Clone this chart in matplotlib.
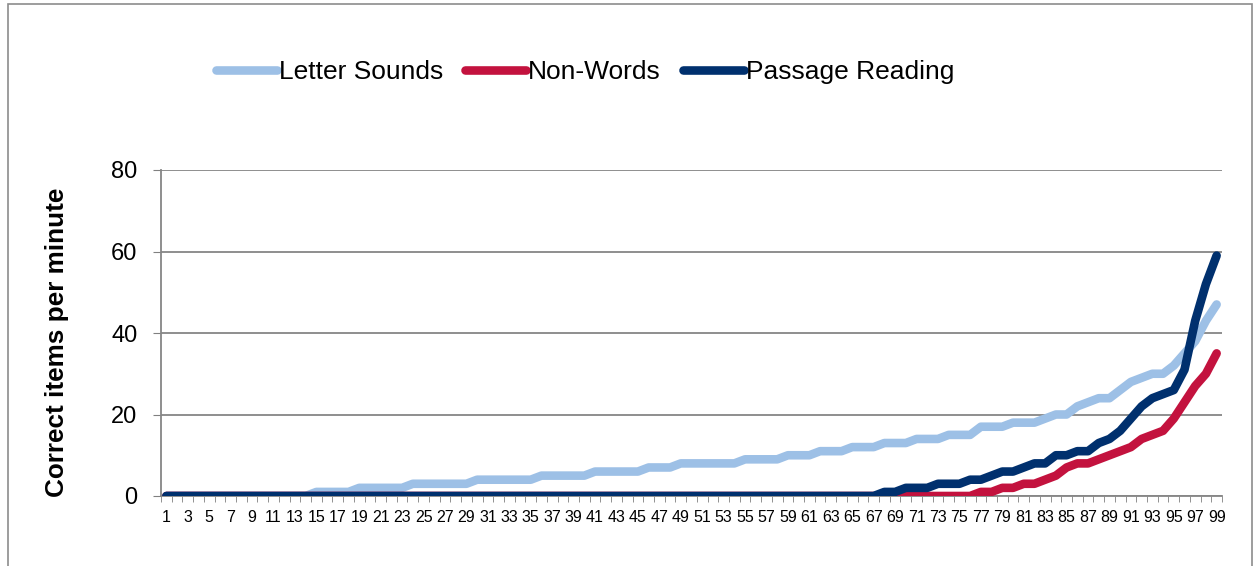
import matplotlib
matplotlib.use("Agg")
import matplotlib.pyplot as plt
from matplotlib.patches import Rectangle

plt.rcParams['font.family'] = ['Liberation Sans', 'DejaVu Sans']

percentiles = list(range(1, 100))

letter_sounds = (
    [0]*14 + [1]*4 + [2]*5 + [3]*6 + [4]*6 + [5]*5 + [6]*5 + [7]*3 + [8]*6 +
    [9]*4 + [10]*3 + [11]*3 + [12]*3 + [13]*3 + [14]*3 + [15]*3 + [17]*3 +
    [18]*3 + [19] + [20]*2 + [22, 23, 24, 24, 26, 28, 29, 30, 30, 32, 35, 38, 43, 47]
)
non_words = (
    [0]*76 + [1, 1, 2, 2, 3, 3, 4, 5, 7, 8, 8, 9, 10, 11, 12, 14, 15, 16, 19, 23, 27, 30, 35]
)
passage_reading = (
    [0]*67 + [1, 1, 2, 2, 2, 3, 3, 3, 4, 4, 5, 6, 6, 7, 8, 8, 10, 10, 11, 11, 13, 14,
              16, 19, 22, 24, 25, 26, 31, 43, 52, 59]
)

series_names = ["Letter Sounds", "Non-Words", "Passage Reading"]
colors = ["#9DC0E6", "#C3123E", "#00306E"]
y_ticks = [0, 20, 40, 60, 80]

fig = plt.figure(figsize=(12.56, 5.66), dpi=100)
ax = fig.add_axes([161/1256, 70/566, (1222-161)/1256, (496-170)/566])

for name, vals, c in zip(series_names, [letter_sounds, non_words, passage_reading], colors):
    ax.plot(percentiles, vals, color=c, lw=6.2, solid_capstyle='round',
            solid_joinstyle='round', label=name, zorder=3)

ax.set_xlim(0.5, 99.5)
ax.set_ylim(0, 80)
ax.set_yticks(y_ticks)
ax.set_yticklabels([str(v) for v in y_ticks], fontsize=17)
ax.set_xticks(percentiles)
ax.set_xticklabels([str(p) if p % 2 == 1 else "" for p in percentiles], fontsize=11.5)
ax.set_xticks([p + 0.5 for p in range(0, 100)], minor=True)
ax.tick_params(axis='x', which='major', length=0, pad=10)
ax.tick_params(axis='x', which='minor', length=4, color='#808080', direction='out')
ax.tick_params(axis='y', length=6, color='#808080', pad=11)
ax.grid(axis='y', color='#868686', lw=1.3, zorder=0)
for s in ['top', 'right']:
    ax.spines[s].set_visible(False)
for s in ['left', 'bottom']:
    ax.spines[s].set_color('#868686')
    ax.spines[s].set_linewidth(1.3)
ax.set_ylabel("Correct items per minute", fontsize=18.8, fontweight='bold')
ax.yaxis.set_label_coords(-0.087, 0.472)

fig.legend(loc='center left', bbox_to_anchor=(216/1256, 1 - 72/566), ncol=3,
           frameon=False, fontsize=19, handlelength=2.3, handletextpad=0.08,
           columnspacing=0.85, borderaxespad=0, borderpad=0)

fig.patches.append(Rectangle((8/1256, -0.1), (1252-8)/1256, 1.1 - 4/566,
                             transform=fig.transFigure, fill=False,
                             edgecolor='#8c8c8c', lw=1.2))

fig.savefig("out.png", dpi=100)
